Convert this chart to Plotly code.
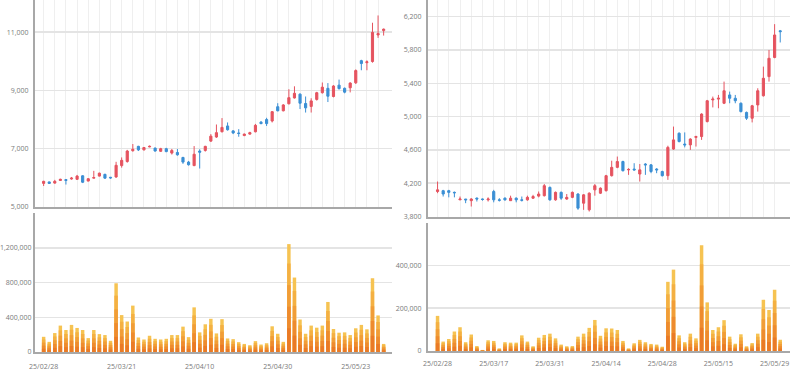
import plotly.graph_objects as go

dates = ["25/02/28",
         "25/03/04", "25/03/05", "25/03/06", "25/03/07",
         "25/03/10", "25/03/11", "25/03/12", "25/03/13", "25/03/14",
         "25/03/17", "25/03/18", "25/03/19", "25/03/20", "25/03/21",
         "25/03/24", "25/03/25", "25/03/26", "25/03/27", "25/03/28",
         "25/03/31", "25/04/01", "25/04/02", "25/04/03", "25/04/04",
         "25/04/07", "25/04/08", "25/04/09", "25/04/10", "25/04/11",
         "25/04/14", "25/04/15", "25/04/16", "25/04/17", "25/04/18",
         "25/04/21", "25/04/22", "25/04/23", "25/04/24", "25/04/25",
         "25/04/28", "25/04/29", "25/04/30", "25/05/02",
         "25/05/07", "25/05/08", "25/05/09",
         "25/05/12", "25/05/13", "25/05/14", "25/05/15", "25/05/16",
         "25/05/19", "25/05/20", "25/05/21", "25/05/22", "25/05/23",
         "25/05/26", "25/05/27", "25/05/28", "25/05/29", "25/05/30"]

left_open = [5810, 5860, 5820, 5910, 5940, 5960, 5950, 6070, 5890, 5990,
             6060, 6120, 6020, 6030, 6420, 6560, 6930, 7080, 6960, 7060,
             7020, 6910, 7000, 6850, 6870, 6700, 6540, 6420, 6920, 6940,
             7260, 7400, 7580, 7780, 7610, 7540, 7450, 7500, 7580, 7910,
             8000, 7950, 8440, 8300, 8540, 8740, 8870, 8550, 8450, 8690,
             8920, 9070, 8790, 9180, 9070, 9090, 9260, 10020, 9950, 9990,
             10900, 11050]
left_high = [5900, 5870, 5930, 5970, 5950, 6030, 6100, 6090, 5990, 6240,
             6180, 6140, 6030, 6550, 6700, 6960, 7160, 7100, 7060, 7110,
             7040, 7030, 7030, 6990, 6990, 6720, 6580, 7090, 6980, 7100,
             7500, 7830, 8050, 7900, 7640, 7670, 7520, 7580, 7850, 7950,
             8060, 8290, 8560, 8530, 9040, 9140, 8900, 8790, 8730, 8950,
             9270, 9250, 9180, 9370, 9100, 9280, 9720, 10050, 10030, 11320,
             11570, 11120]
left_low = [5720, 5790, 5800, 5900, 5770, 5940, 5930, 5820, 5880, 5980,
            6050, 5970, 5970, 6000, 6350, 6520, 6900, 6920, 6940, 7050,
            6900, 6890, 6880, 6800, 6760, 6480, 6420, 6400, 6320, 6900,
            7230, 7370, 7560, 7620, 7500, 7410, 7430, 7480, 7560, 7840,
            7780, 7900, 8280, 8280, 8520, 8720, 8360, 8240, 8240, 8650,
            8890, 8600, 8760, 9030, 8900, 8930, 9220, 9690, 9690, 9950,
            10800, 10880]
left_close = [5880, 5810, 5880, 5950, 5910, 5990, 6060, 5850, 5970, 6010,
              6160, 5990, 6000, 6430, 6600, 6920, 6980, 6960, 7040, 7080,
              6920, 7000, 6900, 6940, 6790, 6540, 6450, 6810, 6880, 7080,
              7430, 7550, 7730, 7650, 7540, 7520, 7500, 7550, 7800, 7860,
              7860, 8270, 8300, 8500, 8750, 8900, 8560, 8400, 8640, 8920,
              9110, 8800, 9150, 9060, 8940, 9250, 9680, 9920, 9980, 10990,
              10950, 11100]
left_volume = [175, 117, 218, 304, 253, 312, 277, 253, 160, 253,
               206, 195, 129, 791, 425, 351, 534, 167, 144, 187,
               152, 144, 152, 195, 195, 292, 171, 514, 226, 319,
               382, 214, 378, 156, 148, 113, 93, 78, 125, 86,
               101, 296, 210, 117, 1242, 857, 374, 210, 304, 280,
               304, 576, 265, 222, 226, 195, 273, 312, 261, 849,
               421, 93]

right_open = [4100, 4110, 4110, 4090, 4000, 4010, 3990, 4020, 4010, 4000,
              4100, 4000, 4020, 3990, 4020, 4000, 4000, 4020, 4045, 4050,
              4150, 4000, 4090, 4010, 4030, 4070, 3960, 3880, 4120, 4080,
              4110, 4290, 4390, 4460, 4360, 4370, 4310, 4430, 4420, 4370,
              4340, 4290, 4610, 4800, 4670, 4660, 4750, 4760, 4940, 5200,
              5210, 5160, 5260, 5220, 5160, 5050, 4980, 5140, 5250, 5480,
              5710, 6030]
right_high = [4220, 4120, 4120, 4100, 4040, 4010, 4020, 4030, 4015, 4030,
              4120, 4020, 4030, 4050, 4030, 4040, 4050, 4060, 4100, 4190,
              4160, 4100, 4100, 4070, 4100, 4080, 4070, 4090, 4190, 4150,
              4300, 4470, 4520, 4470, 4380, 4440, 4430, 4440, 4430, 4380,
              4350, 4650, 4880, 4810, 4810, 4740, 4770, 5040, 5200, 5240,
              5260, 5420, 5300, 5260, 5170, 5060, 5140, 5340, 5600, 5800,
              6110, 6040]
right_low = [4080, 4040, 4030, 4030, 4000, 3960, 3920, 3980, 3990, 3980,
             3970, 3980, 3990, 3990, 3970, 3980, 3990, 4010, 4030, 4040,
             3990, 3990, 4000, 4000, 4020, 3880, 3880, 3860, 4050, 4070,
             4100, 4280, 4380, 4340, 4300, 4350, 4220, 4300, 4320, 4320,
             4280, 4240, 4600, 4690, 4630, 4600, 4640, 4720, 4930, 5110,
             5100, 5150, 5160, 5160, 5050, 4960, 4930, 5060, 5240, 5420,
             5700, 5890]
right_close = [4120, 4070, 4090, 4085, 4010, 4000, 4010, 4010, 4005, 4010,
               4000, 3995, 4000, 4020, 4000, 3995, 4030, 4040, 4070, 4170,
               4000, 4090, 4020, 4030, 4090, 3900, 4060, 4080, 4170, 4140,
               4290, 4390, 4460, 4350, 4365, 4360, 4360, 4420, 4340, 4360,
               4290, 4630, 4720, 4700, 4660, 4730, 4760, 5030, 5190, 5210,
               5220, 5310, 5220, 5190, 5060, 4980, 5130, 5310, 5460, 5700,
               5980, 6020]
right_volume = [164, 44, 56, 91, 111, 41, 77, 23, 5, 50,
                47, 12, 41, 39, 39, 73, 44, 22, 62, 75,
                81, 59, 30, 22, 23, 67, 81, 108, 145, 71,
                106, 105, 98, 47, 12, 36, 52, 41, 33, 30,
                20, 323, 380, 73, 41, 81, 59, 494, 227, 98,
                111, 144, 67, 34, 78, 22, 37, 81, 239, 192,
                286, 52]

left_price_ticks = [5000, 7000, 9000, 11000]
left_volume_ticks = [0, 400000, 800000, 1200000]
right_price_ticks = [3800, 4200, 4600, 5000, 5400, 5800, 6200]
right_volume_ticks = [0, 200000, 400000]
left_date_ticks = [dates[i] for i in (0, 14, 28, 42, 56)]
right_date_ticks = [dates[i] for i in (0, 10, 20, 30, 40, 50, 60)]

RED = "#e5535f"
BLUE = "#3b8fd4"
GRID = "#e4e4e4"
VGRID = "#efefef"
AXIS = "#a8a8a8"
TICKFONT = dict(family="Open Sans, Noto Sans, sans-serif", size=7, color="#7a7a7a")
GRADIENT = [(1.0, "#f6c352"), (0.82, "#f4b042"), (0.62, "#f19d37"),
            (0.42, "#ee8b2e"), (0.22, "#ea7a26")]

fig = go.Figure()


def add_panel(o, h, l, c, vol, xc, yc, xv, yv):
    fig.add_trace(go.Candlestick(
        x=dates, open=o, high=h, low=l, close=c, xaxis=xc, yaxis=yc,
        increasing=dict(line=dict(color=RED, width=1), fillcolor=RED),
        decreasing=dict(line=dict(color=BLUE, width=1), fillcolor=BLUE),
        whiskerwidth=0, showlegend=False, hoverinfo="skip"))
    for frac, col in GRADIENT:
        fig.add_trace(go.Bar(
            x=dates, y=[v * 1000 * frac for v in vol], xaxis=xv, yaxis=yv,
            marker=dict(color=col, line=dict(width=0)), width=0.62,
            showlegend=False, hoverinfo="skip"))


add_panel(left_open, left_high, left_low, left_close, left_volume, "x", "y", "x2", "y2")
add_panel(right_open, right_high, right_low, right_close, right_volume, "x3", "y3", "x4", "y4")

W, H = 800, 375


def px_dom_x(a, b):
    return [a / W, b / W]


def px_dom_y(top, bottom):
    return [1 - bottom / H, 1 - top / H]


common_x = dict(type="category", automargin=False, fixedrange=True,
                showline=True, linecolor=AXIS, linewidth=2, zeroline=False,
                tickfont=TICKFONT, categoryorder="array", categoryarray=dates)
common_y = dict(automargin=False, fixedrange=True, showline=True, linecolor=AXIS,
                linewidth=2, zeroline=False, gridcolor=GRID, gridwidth=1.5,
                tickformat=",d", tickfont=TICKFONT, ticks="outside", ticklen=3,
                tickcolor="rgba(0,0,0,0)")

LX = px_dom_x(35, 392)
RX = px_dom_x(428, 789.5)
LR = [-1.55, 62.5]
RR = [-1.7, 62.65]

fig.update_layout(
    width=W, height=H, margin=dict(l=0, r=0, t=0, b=0),
    paper_bgcolor="white", plot_bgcolor="white", barmode="overlay",
    showlegend=False, boxgap=0.45,
    xaxis=dict(common_x, domain=LX, anchor="y", range=LR, tickvals=dates[::2],
               showticklabels=False, showgrid=True, gridcolor=VGRID, gridwidth=1,
               rangeslider=dict(visible=False)),
    yaxis=dict(common_y, domain=px_dom_y(0, 207), anchor="x", range=[5000, 12100],
               tickvals=left_price_ticks),
    xaxis2=dict(common_x, domain=LX, anchor="y2", range=LR, tickvals=left_date_ticks,
                showgrid=False, ticks="outside", ticklen=7, tickcolor="rgba(0,0,0,0)"),
    yaxis2=dict(common_y, domain=px_dom_y(213, 352), anchor="x2", range=[0, 1600000],
                tickvals=left_volume_ticks, ticks=""),
    xaxis3=dict(common_x, domain=RX, anchor="y3", range=RR, tickvals=dates[::2],
                showticklabels=False, showgrid=True, gridcolor=VGRID, gridwidth=1,
                rangeslider=dict(visible=False)),
    yaxis3=dict(common_y, domain=px_dom_y(0, 216.5), anchor="x3", range=[3800, 6400],
                tickvals=right_price_ticks),
    xaxis4=dict(common_x, domain=RX, anchor="y4", range=RR, tickvals=right_date_ticks,
                showgrid=False, ticks="outside", ticklen=5, tickcolor="rgba(0,0,0,0)"),
    yaxis4=dict(common_y, domain=px_dom_y(222.5, 351), anchor="x4", range=[0, 600000],
                tickvals=right_volume_ticks),
)

fig.write_html("out.html",
               config={"displayModeBar": False, "staticPlot": True},
               post_script="document.body.style.margin='0';"
                           "document.body.style.overflow='hidden';")
